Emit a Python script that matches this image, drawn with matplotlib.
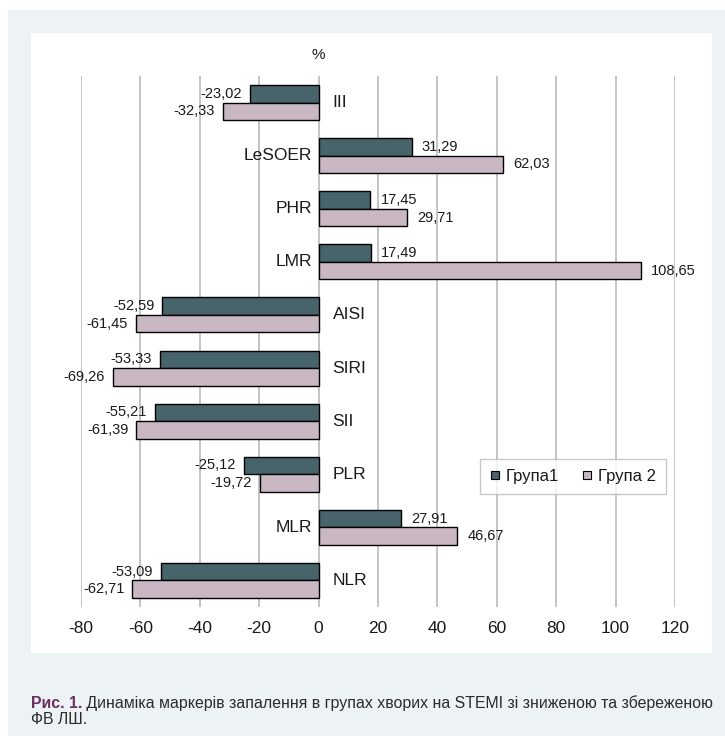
import numpy as np
import matplotlib
matplotlib.use("Agg")
import matplotlib.pyplot as plt
from matplotlib.patches import Rectangle
from matplotlib.lines import Line2D

plt.rcParams['font.family'] = ['Liberation Sans', 'DejaVu Sans']

categories = ["III", "LeSOER", "PHR", "LMR", "AISI", "SIRI", "SII", "PLR", "MLR", "NLR"]
group1 = [-23.02, 31.29, 17.45, 17.49, -52.59, -53.33, -55.21, -25.12, 27.91, -53.09]
group2 = [-32.33, 62.03, 29.71, 108.65, -61.45, -69.26, -61.39, -19.72, 46.67, -62.71]
series_names = ["Група1", "Група 2"]
xticks = [-80, -60, -40, -20, 0, 20, 40, 60, 80, 100, 120]

c1 = "#46646a"
c2 = "#cab7c4"
txt = "#1a1a1a"

fig = plt.figure(figsize=(7.25, 7.36), dpi=100, facecolor="white")

# grey frame + white panel behind the chart
fig.patches.append(Rectangle((8 / 725, 0), 1, 726 / 736, transform=fig.transFigure,
                             facecolor="#edf2f5", edgecolor="none", zorder=-3))
fig.patches.append(Rectangle((31 / 725, 1 - 653 / 736), 681 / 725, 620 / 736,
                             transform=fig.transFigure, facecolor="white",
                             edgecolor="none", zorder=-2))

ax = fig.add_axes([81 / 725, 1 - 607 / 736, 594 / 725, 531 / 736])
ax.set_facecolor("none")

y = np.arange(len(categories))
h = 0.33
ax.barh(y - h / 2, group1, height=h, color=c1, edgecolor="black", linewidth=1, zorder=3)
ax.barh(y + h / 2, group2, height=h, color=c2, edgecolor="black", linewidth=1, zorder=3)

ax.set_xlim(-80, 120)
ax.set_ylim(len(categories) - 0.5, -0.5)
ax.set_xticks(xticks)
ax.set_xticklabels([str(t) for t in xticks], fontsize=12.5, color=txt)
ax.set_yticks([])
ax.tick_params(axis="x", length=0, pad=10)
ax.xaxis.grid(True, color="#bfbfbf", linewidth=1.3, zorder=0)
for s in ax.spines.values():
    s.set_visible(False)


def fmt(v):
    return f"{v:.2f}".replace(".", ",")


for yi, v in zip(y - h / 2, group1):
    off = 10 if v > 0 else -8
    ax.annotate(fmt(v), (v, yi), xytext=(off * 0.72, 0), textcoords="offset points",
                ha="left" if v > 0 else "right", va="center", fontsize=10.5, color=txt)
for yi, v in zip(y + h / 2, group2):
    off = 10 if v > 0 else -8
    ax.annotate(fmt(v), (v, yi), xytext=(off * 0.72, 0), textcoords="offset points",
                ha="left" if v > 0 else "right", va="center", fontsize=10.5, color=txt)

for yi, name, v in zip(y, categories, group1):
    if v < 0:
        ax.annotate(name, (0, yi), xytext=(10, 0), textcoords="offset points",
                    ha="left", va="center", fontsize=12.5, color=txt)
    else:
        ax.annotate(name, (0, yi), xytext=(-5, 0), textcoords="offset points",
                    ha="right", va="center", fontsize=12.5, color=txt)

fig.text(318 / 725, 1 - 55 / 736, "%", ha="center", va="center", fontsize=11, color=txt)

handles = [Line2D([], [], marker="s", linestyle="none", markersize=5.5,
                  markerfacecolor=c, markeredgecolor="black", markeredgewidth=0.8)
           for c in (c1, c2)]
leg = fig.legend(handles, series_names, loc="center",
                 bbox_to_anchor=(573 / 725, 1 - 476 / 736),
                 ncol=2, fontsize=12, frameon=True, fancybox=False,
                 borderpad=0.6, handletextpad=0.35, handlelength=0.6, columnspacing=1.4,
                 labelcolor=txt, borderaxespad=0)
leg.get_frame().set_edgecolor("#bbbbbb")
leg.get_frame().set_linewidth(1)

cap = fig.add_axes([0, 0, 1, 1])
cap.axis("off")
cap.set_zorder(-1)
t1 = cap.text(31 / 725, 1 - 703 / 736, "Рис. 1.", fontsize=11.4, fontweight="bold",
              color="#6b2e5e", va="center", ha="left")
cap.annotate(" Динаміка маркерів запалення в групах хворих на STEMI зі зниженою та збереженою",
             xy=(1, 0.5), xycoords=t1, va="center", ha="left", fontsize=11.4, color="#2b2b2b")
cap.text(31 / 725, 1 - 720 / 736, "ФВ ЛШ.", fontsize=11.4, color="#2b2b2b",
         va="center", ha="left")

fig.savefig("out.png", dpi=100, facecolor=fig.get_facecolor())
